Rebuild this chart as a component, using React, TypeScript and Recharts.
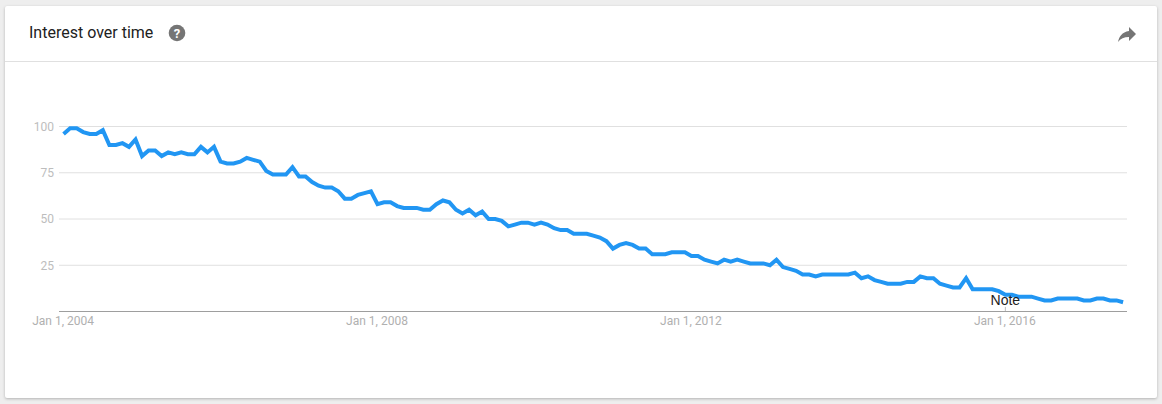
import { CartesianGrid, Line, LineChart, ReferenceLine, XAxis, YAxis } from "recharts";

// monthly interest values, Jan 2004 to Jul 2017
const interest = [
  96, 99, 99, 97, 96, 96, 98, 90, 90, 91, 89, 93,
  84, 87, 87, 84, 86, 85, 86, 85, 85, 89, 86, 89,
  81, 80, 80, 81, 83, 82, 81, 76, 74, 74, 74, 78,
  73, 73, 70, 68, 67, 67, 65, 61, 61, 63, 64, 65,
  58, 59, 59, 57, 56, 56, 56, 55, 55, 58, 60, 59,
  55, 53, 55, 52, 54, 50, 50, 49, 46, 47, 48, 48,
  47, 48, 47, 45, 44, 44, 42, 42, 42, 41, 40, 38,
  34, 36, 37, 36, 34, 34, 31, 31, 31, 32, 32, 32,
  30, 30, 28, 27, 26, 28, 27, 28, 27, 26, 26, 26,
  25, 28, 24, 23, 22, 20, 20, 19, 20, 20, 20, 20,
  20, 21, 18, 19, 17, 16, 15, 15, 15, 16, 16, 19,
  18, 18, 15, 14, 13, 13, 18, 12, 12, 12, 12, 11,
  9, 9, 8, 8, 8, 7, 6, 6, 7, 7, 7, 7,
  6, 6, 7, 7, 6, 6, 5,
];

const yTicks = [25, 50, 75, 100];
const xTicks = [0, 48, 96, 144];
const xTickLabels = ["Jan 1, 2004", "Jan 1, 2008", "Jan 1, 2012", "Jan 1, 2016"];
const noteMonth = 144;

const chartData = interest.map((value, month) => ({ month, value }));
const font = "Roboto, sans-serif";

export default function App() {
  return (
    <div style={{ position: "absolute", left: 0, top: 0, width: 1162, height: 404, background: "#eeeeee", overflow: "hidden" }}>
      <div
        style={{
          position: "absolute",
          left: 5,
          top: 6,
          width: 1152,
          height: 392,
          background: "#fff",
          borderRadius: 2,
          boxShadow: "0 1px 3px rgba(0,0,0,0.25)",
        }}
      />
      <div style={{ position: "absolute", left: 5, top: 61, width: 1152, height: 1, background: "#e0e0e0" }} />
      <div
        style={{
          position: "absolute",
          left: 29,
          top: 23,
          fontFamily: font,
          fontSize: 16,
          lineHeight: "20px",
          color: "#212121",
          whiteSpace: "nowrap",
        }}
      >
        Interest over time
      </div>
      <svg style={{ position: "absolute", left: 168, top: 24 }} width={18} height={18}>
        <circle cx={9} cy={9} r={8.3} fill="#757575" />
        <text x={9} y={13.5} textAnchor="middle" fontFamily={font} fontWeight={700} fontSize={13} fill="#fff">
          ?
        </text>
      </svg>
      <svg style={{ position: "absolute", left: 1115, top: 22 }} width={24} height={24}>
        <path d="M14 9V5l7 7-7 7v-4.1c-5 0-8.5 1.6-11 5.1 1-5 4-10 11-11z" fill="#757575" />
      </svg>
      <div style={{ position: "absolute", left: 0, top: 0 }}>
        <LineChart
          width={1162}
          height={404}
          data={chartData}
          margin={{ top: 126.5, right: 35, bottom: 62.5, left: 0 }}
        >
          <CartesianGrid vertical={false} stroke="#e0e0e0" horizontalValues={yTicks} />
          <XAxis
            dataKey="month"
            type="number"
            domain={[-0.7, 162.6]}
            ticks={xTicks}
            tickFormatter={(m: number) => xTickLabels[xTicks.indexOf(m)]}
            tickLine={false}
            axisLine={{ stroke: "#9e9e9e" }}
            height={30}
            tickMargin={-1}
            interval={0}
            tick={{ fontFamily: font, fontSize: 12, fill: "#b0b0b0", dx: -0.5 }}
          />
          <YAxis
            type="number"
            domain={[0, 100]}
            ticks={yTicks}
            width={59}
            tickLine={false}
            axisLine={false}
            tickMargin={-1}
            interval={0}
            tick={{ fontFamily: font, fontSize: 12, fill: "#bdbdbd" }}
          />
          <Line
            dataKey="value"
            stroke="#2196f3"
            strokeWidth={4}
            dot={false}
            activeDot={false}
            isAnimationActive={false}
          />
          <ReferenceLine
            segment={[
              { x: noteMonth, y: 0 },
              { x: noteMonth, y: 2.5 },
            ]}
            stroke="#bdbdbd"
            label={{
              value: "Note",
              position: "top",
              offset: 2,
              fontFamily: "'Liberation Sans', Arial, sans-serif",
              fontSize: 14,
              fill: "#212121",
            }}
          />
        </LineChart>
      </div>
    </div>
  );
}
